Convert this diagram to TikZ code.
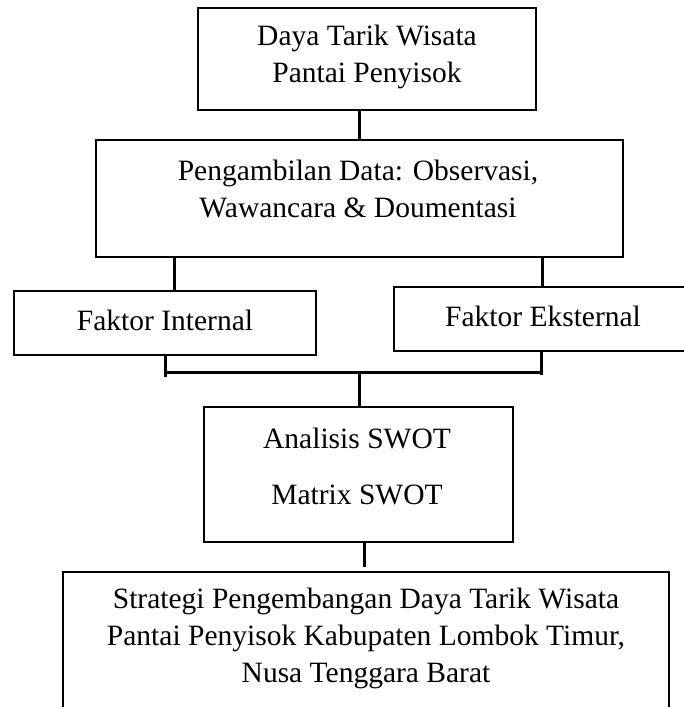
\documentclass[tikz,border=0pt]{standalone}
\usepackage{fontspec}
\setmainfont{Liberation Serif}
\begin{document}
\begin{tikzpicture}[x=1pt,y=-1pt,
  box/.style={draw=black,line width=2pt,rectangle,inner sep=0pt},
  txt/.style={align=center,inner sep=0pt,font=\fontsize{29.5}{37}\selectfont},
  conn/.style={line width=3pt}]
\useasboundingbox (0,0) rectangle (683,707);
% boxes
\node[box,minimum width=338pt,minimum height=102pt] (b1) at (367,59) {};
\node[box,minimum width=527pt,minimum height=117pt] (b2) at (359.5,198.5) {};
\node[box,minimum width=302pt,minimum height=64pt] (fi) at (165,323) {};
\node[box,minimum width=300pt,minimum height=64pt] (fe) at (544,319) {};
\node[box,minimum width=309pt,minimum height=135pt] (an) at (358.5,474.5) {};
\node[box,minimum width=606pt,minimum height=170pt] (st) at (366,657) {};
% texts
\node[txt] (t1) at (367,57) {Daya Tarik Wisata\\Pantai Penyisok};
\node[txt] (t2) at (358,189) {Pengambilan Data: Observasi,\\Wawancara \& Doumentasi};
\node[txt] (t3) at (165,320) {Faktor Internal};
\node[txt] (t4) at (543,316) {Faktor Eksternal};
\node[txt] (t5) at (357,438) {Analisis SWOT};
\node[txt] (t6) at (357,495) {Matrix SWOT};
\node[txt] (t7) at (366,638) {Strategi Pengembangan Daya Tarik Wisata\\Pantai Penyisok Kabupaten Lombok Timur,\\Nusa Tenggara Barat};
% connector helper coordinates
\coordinate (xa) at (359,0);
\coordinate (xl) at (174,0);
\coordinate (xr) at (542,0);
\coordinate (xfl) at (165,0);
\coordinate (xfr) at (541,0);
\coordinate (jn) at (359,372);
\coordinate (xs) at (364,0);
\coordinate (ye) at (0,567);
% connectors
\draw[conn] (xa |- b1.south) -- (xa |- b2.north);
\draw[conn] (xl |- b2.south) -- (xl |- fi.north);
\draw[conn] (xr |- b2.south) -- (xr |- fe.north);
\draw[conn] (xfl |- fi.south) -- (xfl |- 0,377);
\draw[conn] (xfr |- fe.south) -- (xfr |- 0,375);
\draw[conn] (xfl |- jn) -- (xfr |- jn);
\draw[conn] (jn) -- (jn |- an.north);
\draw[conn] (xs |- an.south) -- (xs |- ye);
\end{tikzpicture}
\end{document}
